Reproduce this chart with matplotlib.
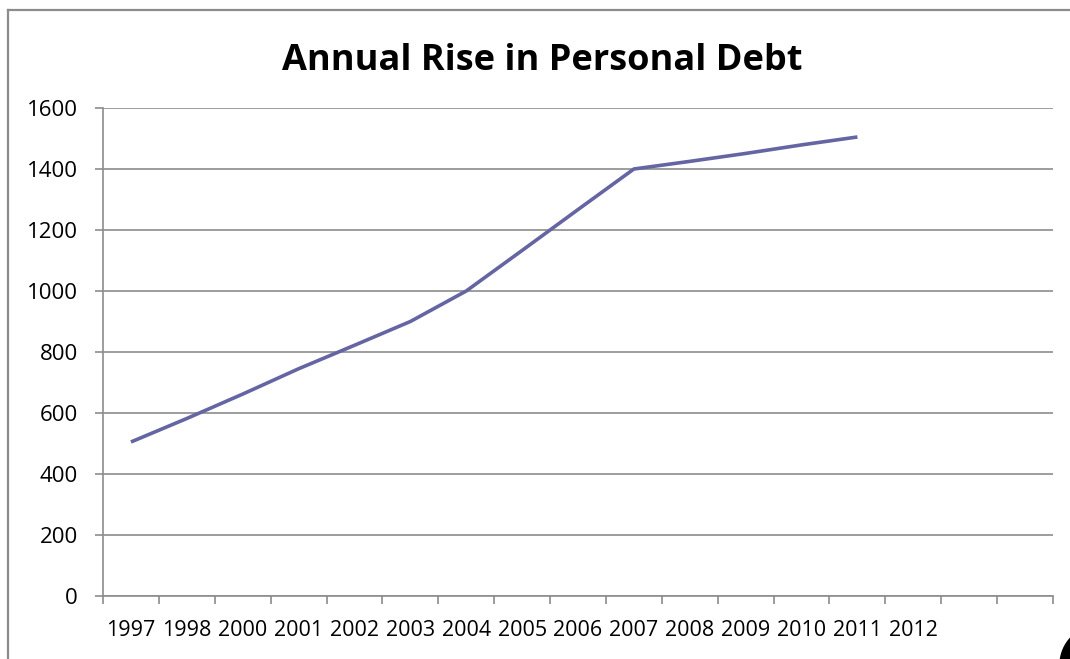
import matplotlib
matplotlib.use("Agg")
import matplotlib.pyplot as plt
from matplotlib.lines import Line2D
from matplotlib.patches import Ellipse

# 17 category slots on the x axis, only the first 15 carry a label
years = ['1997', '1998', '2000', '2001', '2002', '2003', '2004', '2005',
         '2006', '2007', '2008', '2009', '2010', '2011', '2012', '', '']
debt = [505, 582, 662, 745, 822, 900, 1000, 1133, 1267, 1400,
        1425, 1451, 1479, 1505]
yticks = [0, 200, 400, 600, 800, 1000, 1200, 1400, 1600]

plt.rcParams['font.family'] = ['Open Sans', 'DejaVu Sans']

W, H = 1070, 659
fig = plt.figure(figsize=(W / 100, H / 100), dpi=100)
ax = fig.add_axes([103 / W, 1 - 596 / H, 950 / W, 488 / H])

x = list(range(len(debt)))
ax.plot(x, debt, color='#6565a3', linewidth=2.6, solid_capstyle='butt')

ax.set_xlim(-0.5, len(years) - 0.5)
ax.set_ylim(0, 1600)

grid_c = '#8c8c8c'
ax.set_yticks(yticks)
ax.set_yticklabels([str(v) for v in yticks])
ax.yaxis.grid(True, color=grid_c, linewidth=1.2)
ax.set_axisbelow(True)

# tick marks on category boundaries, labels at category centres
ax.set_xticks([i - 0.5 for i in range(len(years) + 1)])
ax.set_xticklabels([])
ax.set_xticks(range(len(years)), minor=True)
ax.set_xticklabels(years, minor=True)
ax.tick_params(axis='x', which='major', direction='out', length=6,
               width=1.2, color=grid_c)
ax.tick_params(axis='x', which='minor', length=0, pad=17, labelsize=15.5)
ax.tick_params(axis='y', direction='out', length=6, width=1.2,
               color=grid_c, pad=12, labelsize=16)

for s in ['top', 'right']:
    ax.spines[s].set_visible(False)
for s in ['left', 'bottom']:
    ax.spines[s].set_color(grid_c)
    ax.spines[s].set_linewidth(1.2)

fig.text(542 / W, 1 - 61 / H, 'Annual Rise in Personal Debt',
         ha='center', va='center', fontsize=26, fontweight='bold')

# chart area border (only top and left edges are visible)
fig.add_artist(Line2D([8 / W, 8 / W], [0, 1 - 10 / H],
                      transform=fig.transFigure, color='#8c8c8c', lw=1.6))
fig.add_artist(Line2D([8 / W, 1], [1 - 10 / H, 1 - 10 / H],
                      transform=fig.transFigure, color='#8c8c8c', lw=1.6))
fig.add_artist(Ellipse((1100 / W, -6 / H), 80 / W, 80 / H,
                       transform=fig.transFigure, color='black'))

fig.savefig('out.png', dpi=100)
